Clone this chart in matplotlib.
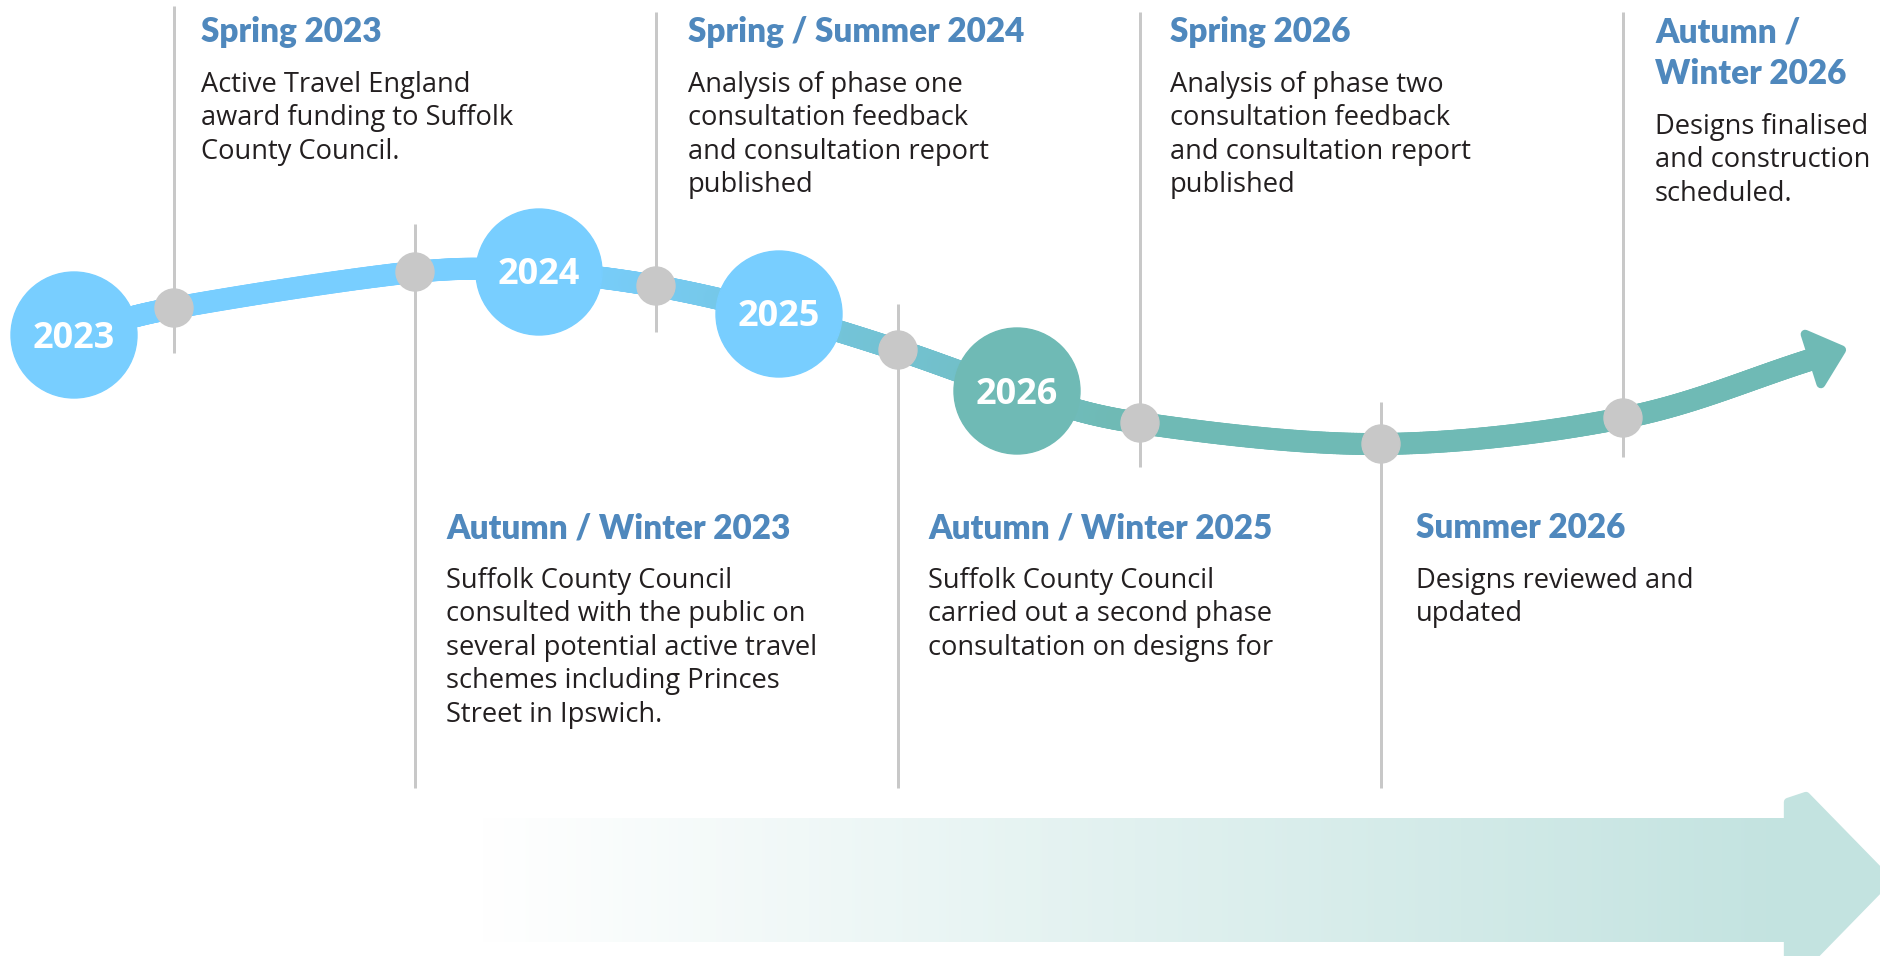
import numpy as np
import matplotlib
matplotlib.use("Agg")
import matplotlib.pyplot as plt
from matplotlib.patches import Circle, Polygon, Rectangle
from matplotlib.collections import LineCollection
from matplotlib.colors import to_rgb

# data (positions in picture pixels)
years = ['2023', '2024', '2025', '2026']
year_x = [74, 539, 779, 1017]
year_y = [335, 272, 314, 391]
year_col = ['#78CEFF', '#78CEFF', '#78CEFF', '#6FBAB5']

mile_x = [174, 415, 656, 898, 1140, 1381, 1623]
mile_y = [308, 272, 286, 350, 423, 444, 418]
line_top = [6, 224, 12, 304, 12, 402, 12]
line_bot = [353, 788, 332, 788, 467, 788, 457]
side = ['top', 'bottom', 'top', 'bottom', 'top', 'bottom', 'top']
text_x = [201, 446, 688, 928, 1170, 1416, 1655]

headings = [
    ['Spring 2023'],
    ['Autumn / Winter 2023'],
    ['Spring / Summer 2024'],
    ['Autumn / Winter 2025'],
    ['Spring 2026'],
    ['Summer 2026'],
    ['Autumn /', 'Winter 2026'],
]
bodies = [
    ['Active Travel England', 'award funding to Suffolk', 'County Council.'],
    ['Suffolk County Council', 'consulted with the public on',
     'several potential active travel', 'schemes including Princes',
     'Street in Ipswich.'],
    ['Analysis of phase one', 'consultation feedback',
     'and consultation report', 'published'],
    ['Suffolk County Council', 'carried out a second phase',
     'consultation on designs for'],
    ['Analysis of phase two', 'consultation feedback',
     'and consultation report', 'published'],
    ['Designs reviewed and', 'updated'],
    ['Designs finalised', 'and construction', 'scheduled.'],
]
path_end = (1813, 359)

W, H = 1881, 956
fig = plt.figure(figsize=(W / 100, H / 100), dpi=100)
ax = fig.add_axes([0, 0, 1, 1])
ax.set_xlim(0, W)
ax.set_ylim(H, 0)
ax.axis('off')

px = 0.72  # points per pixel
blue = '#78CEFF'
teal = '#6FBAB5'
grey = '#C8C8C8'
head_col = '#4F88BD'
body_col = '#231F20'


def catmull_rom(pts, n=80):
    pts = np.asarray(pts, float)
    p = np.vstack([2 * pts[0] - pts[1], pts, 2 * pts[-1] - pts[-2]])
    out = []
    for i in range(1, len(p) - 2):
        p0, p1, p2, p3 = p[i - 1], p[i], p[i + 1], p[i + 2]
        t = np.linspace(0, 1, n, endpoint=False)[:, None]
        out.append(0.5 * (2 * p1 + (-p0 + p2) * t
                          + (2 * p0 - 5 * p1 + 4 * p2 - p3) * t ** 2
                          + (-p0 + 3 * p1 - 3 * p2 + p3) * t ** 3))
    out.append(pts[-1:])
    return np.vstack(out)


# bottom gradient arrow
band_y0, band_y1 = 818, 942
grad = np.linspace(0, 1, 256)
c0 = np.array(to_rgb('#FFFFFF'))
c1 = np.array(to_rgb('#C3E3E0'))
img = c0[None, None, :] * (1 - grad[None, :, None]) + c1[None, None, :] * grad[None, :, None]
im = ax.imshow(img, extent=[480, 1790, band_y1, band_y0], aspect='auto', zorder=0,
               interpolation='bilinear')
clip = Rectangle((480, band_y0), 1310, band_y1 - band_y0, transform=ax.transData)
im.set_clip_path(clip)
ax.add_patch(Polygon([(1788, 802), (1806, 796), (1888, 880), (1806, 964), (1788, 958)],
                     closed=True, fc='#C3E3E0', ec='#C3E3E0', lw=6, joinstyle='round', zorder=0))

# curve through all points
pts = sorted(list(zip(year_x, year_y)) + list(zip(mile_x, mile_y)))
pts.append(path_end)
curve = catmull_rom(pts)
segs = np.stack([curve[:-1], curve[1:]], axis=1)
mid = 0.5 * (curve[:-1, 0] + curve[1:, 0])
f = np.clip((mid - 560) / (1120 - 560), 0, 1)[:, None]
cols = np.array(to_rgb(blue)) * (1 - f) + np.array(to_rgb(teal)) * f
ax.add_collection(LineCollection(segs, colors=cols, linewidths=22 * px,
                                 capstyle='round', zorder=2))

# arrow head from curve end direction
d = curve[-1] - curve[-6]
d = d / np.hypot(*d)
nrm = np.array([-d[1], d[0]])
base = curve[-1]
tip = base + d * 30
ax.add_patch(Polygon([base + nrm * 26, tip, base - nrm * 26], closed=True,
                     fc=teal, ec=teal, lw=9 * px, joinstyle='round', zorder=3))

# vertical guide lines and milestone dots
for x, y, t0, t1 in zip(mile_x, mile_y, line_top, line_bot):
    ax.plot([x, x], [t0, t1], color=grey, lw=3 * px, solid_capstyle='butt', zorder=1)
    ax.add_patch(Circle((x, y), 19, color=grey, zorder=4))

# year circles
for lab, x, y, c in zip(years, year_x, year_y, year_col):
    ax.add_patch(Circle((x, y), 63, color=c, zorder=5))
    ax.text(x, y + 12.5, lab, color='white', fontsize=36 * px, fontweight='bold',
            family='Open Sans', ha='center', va='baseline', zorder=6)

# event texts
for tx, s, hd, body in zip(text_x, side, headings, bodies):
    y0 = 42 if s == 'top' else 538
    for i, h in enumerate(hd):
        ax.text(tx, y0 + i * 42, h, color=head_col, fontsize=33.3 * px, fontweight='heavy',
                family='Lato', ha='left', va='baseline')
    yb = y0 + 50 + (len(hd) - 1) * 42
    for i, line in enumerate(body):
        ax.text(tx, yb + i * 33.4, line, color=body_col, fontsize=27.2 * px,
                family='Open Sans', ha='left', va='baseline')

fig.savefig('out.png', dpi=100)
